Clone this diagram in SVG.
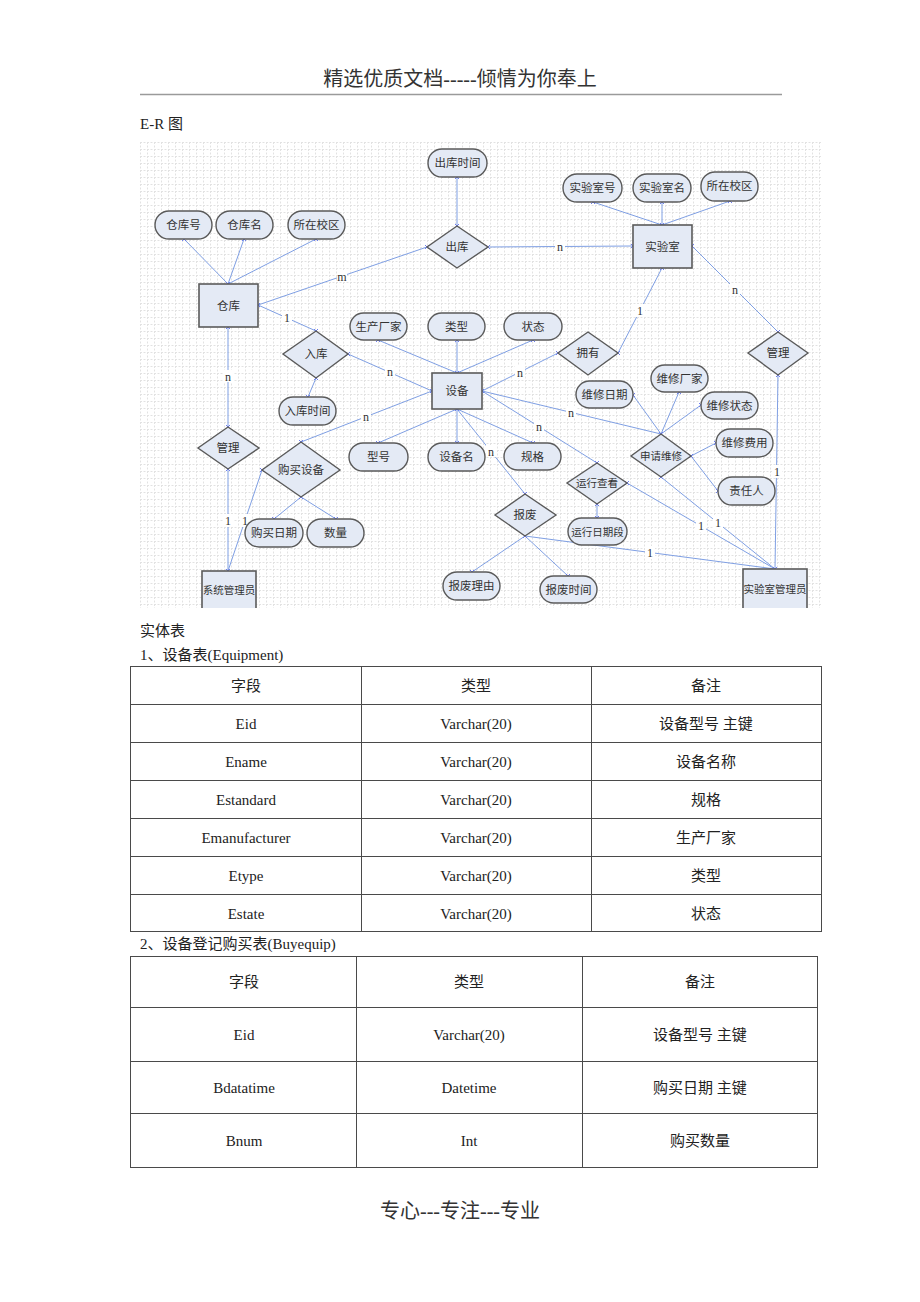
<svg xmlns="http://www.w3.org/2000/svg" width="920" height="1302" viewBox="0 0 920 1302">
<style>
.t{font-family:"Liberation Serif","Noto Sans CJK SC",serif;fill:#222}
.hd{font-size:20px;text-anchor:middle;fill:#333}
.p{font-size:15px}
.tc{font-size:15px;text-anchor:middle}
.nt{font-family:"Liberation Serif","Noto Sans CJK SC",serif;font-size:11.5px;text-anchor:middle;fill:#333}
.sm{font-size:10.5px}
.shape{fill:#e4eaf5;stroke:#5a5a5a;stroke-width:1.4}
.ent{fill:#e4eaf5;stroke:#5a5a5a;stroke-width:1.6}
.cn line{stroke:#7f9fe3;stroke-width:1;marker-start:url(#x);marker-end:url(#x)}
.lbl{font-family:"Liberation Serif","Noto Sans CJK SC",serif;font-size:12px;text-anchor:middle;fill:#333}
.tb{fill:none;stroke:#4a4a4a;stroke-width:1}
</style>
<defs>
<pattern id="grid" x="140" y="142" width="7" height="7" patternUnits="userSpaceOnUse">
<path d="M0 0.5H7M0.5 0V7" stroke="#e2e2e2" stroke-width="1" stroke-dasharray="2 1.5" fill="none"/>
</pattern>
<marker id="x" viewBox="-3 -3 6 6" markerWidth="6" markerHeight="6" refX="0" refY="0" markerUnits="userSpaceOnUse">
<path d="M-2 -2L2 2M-2 2L2 -2" stroke="#6f7ff0" stroke-width="1"/>
</marker>
<clipPath id="gclip"><rect x="140" y="142" width="682" height="466"/></clipPath>
</defs>
<rect width="920" height="1302" fill="#fff"/>
<g id="header">
<text class="t hd" x="460" y="86">精选优质文档-----倾情为你奉上</text>
<line x1="140" y1="94.5" x2="782" y2="94.5" stroke="#9a9a9a" stroke-width="1.5"/>
<text class="t p" x="140" y="129">E-R 图</text>
</g>
<g id="er" clip-path="url(#gclip)">
<rect x="140" y="142" width="682" height="466" fill="url(#grid)"/>
<g id="connectors" class="cn">
<line x1="184" y1="239" x2="228" y2="284"/>
<line x1="244" y1="239" x2="228" y2="284"/>
<line x1="316" y1="239" x2="228" y2="284"/>
<line x1="258" y1="305" x2="427" y2="247"/>
<line x1="457" y1="177" x2="457" y2="226"/>
<line x1="488" y1="247" x2="633" y2="246"/>
<line x1="593" y1="202" x2="662" y2="225"/>
<line x1="662" y1="202" x2="662" y2="225"/>
<line x1="730" y1="201" x2="662" y2="225"/>
<line x1="662" y1="268" x2="618" y2="353"/>
<line x1="692" y1="246" x2="778" y2="332"/>
<line x1="778" y1="375" x2="775" y2="569"/>
<line x1="258" y1="305" x2="316" y2="331"/>
<line x1="348" y1="354" x2="432" y2="391"/>
<line x1="316" y1="378" x2="308" y2="397"/>
<line x1="228" y1="327" x2="228" y2="427"/>
<line x1="228" y1="469" x2="228" y2="571"/>
<line x1="262" y1="470" x2="228" y2="571"/>
<line x1="301" y1="442" x2="432" y2="391"/>
<line x1="301" y1="497" x2="274" y2="519"/>
<line x1="301" y1="497" x2="336" y2="519"/>
<line x1="457" y1="373" x2="378" y2="340"/>
<line x1="457" y1="373" x2="457" y2="340"/>
<line x1="457" y1="373" x2="533" y2="340"/>
<line x1="482" y1="391" x2="558" y2="353"/>
<line x1="457" y1="409" x2="378" y2="443"/>
<line x1="457" y1="409" x2="457" y2="443"/>
<line x1="457" y1="409" x2="533" y2="443"/>
<line x1="457" y1="409" x2="525" y2="494"/>
<line x1="482" y1="391" x2="597" y2="463"/>
<line x1="482" y1="391" x2="661" y2="434"/>
<line x1="597" y1="504" x2="597" y2="518"/>
<line x1="627" y1="483" x2="775" y2="569"/>
<line x1="661" y1="477" x2="775" y2="569"/>
<line x1="525" y1="536" x2="775" y2="569"/>
<line x1="525" y1="536" x2="472" y2="572"/>
<line x1="525" y1="536" x2="568" y2="576"/>
<line x1="633" y1="395" x2="661" y2="434"/>
<line x1="679" y1="392" x2="661" y2="434"/>
<line x1="701" y1="405" x2="661" y2="434"/>
<line x1="691" y1="456" x2="716" y2="443"/>
<line x1="691" y1="456" x2="718" y2="491"/>
</g>
<g id="labels">
<rect x="337" y="270" width="10" height="12" fill="#fff"/><text class="lbl" x="342" y="281">m</text>
<rect x="555" y="240" width="10" height="12" fill="#fff"/><text class="lbl" x="560" y="251">n</text>
<rect x="635" y="304" width="10" height="13" fill="#fff"/><text class="lbl" x="640" y="315">1</text>
<rect x="730" y="283" width="10" height="12" fill="#fff"/><text class="lbl" x="735" y="294">n</text>
<rect x="772" y="465" width="10" height="13" fill="#fff"/><text class="lbl" x="777" y="476">1</text>
<rect x="282" y="311" width="10" height="13" fill="#fff"/><text class="lbl" x="287" y="322">1</text>
<rect x="385" y="365" width="10" height="12" fill="#fff"/><text class="lbl" x="390" y="376">n</text>
<rect x="223" y="370" width="10" height="12" fill="#fff"/><text class="lbl" x="228" y="381">n</text>
<rect x="223" y="514" width="10" height="13" fill="#fff"/><text class="lbl" x="228" y="525">1</text>
<rect x="240" y="514" width="10" height="13" fill="#fff"/><text class="lbl" x="245" y="525">1</text>
<rect x="361" y="410" width="10" height="12" fill="#fff"/><text class="lbl" x="366" y="421">n</text>
<rect x="515" y="366" width="10" height="12" fill="#fff"/><text class="lbl" x="520" y="377">n</text>
<rect x="566" y="406" width="10" height="12" fill="#fff"/><text class="lbl" x="571" y="417">n</text>
<rect x="534" y="420" width="10" height="12" fill="#fff"/><text class="lbl" x="539" y="431">n</text>
<rect x="486" y="445" width="10" height="12" fill="#fff"/><text class="lbl" x="491" y="456">n</text>
<rect x="696" y="519" width="10" height="13" fill="#fff"/><text class="lbl" x="701" y="530">1</text>
<rect x="713" y="516" width="10" height="13" fill="#fff"/><text class="lbl" x="718" y="527">1</text>
<rect x="645" y="546" width="10" height="13" fill="#fff"/><text class="lbl" x="650" y="557">1</text>
</g>
<g id="n-chukushijian"><rect class="shape" x="428" y="149" width="59" height="28" rx="14"/><text class="nt" x="457.5" y="167">出库时间</text></g>
<g id="n-cangkuhao"><rect class="shape" x="155" y="211" width="57" height="28" rx="14"/><text class="nt" x="183.5" y="229">仓库号</text></g>
<g id="n-cangkuming"><rect class="shape" x="216" y="211" width="57" height="28" rx="14"/><text class="nt" x="244.5" y="229">仓库名</text></g>
<g id="n-xiaoqu1"><rect class="shape" x="288" y="211" width="57" height="28" rx="14"/><text class="nt" x="316.5" y="229">所在校区</text></g>
<g id="n-shiyanshihao"><rect class="shape" x="563" y="174" width="59" height="28" rx="14"/><text class="nt" x="592.5" y="192">实验室号</text></g>
<g id="n-shiyanshiming"><rect class="shape" x="633" y="174" width="58" height="28" rx="14"/><text class="nt" x="662" y="192">实验室名</text></g>
<g id="n-xiaoqu2"><rect class="shape" x="701" y="172" width="57" height="29" rx="14"/><text class="nt" x="729.5" y="190">所在校区</text></g>
<g id="n-shengchan"><rect class="shape" x="350" y="313" width="57" height="27" rx="13.5"/><text class="nt" x="378.5" y="330.5">生产厂家</text></g>
<g id="n-leixing"><rect class="shape" x="428" y="313" width="57" height="27" rx="13.5"/><text class="nt" x="456.5" y="330.5">类型</text></g>
<g id="n-zhuangtai"><rect class="shape" x="504" y="313" width="58" height="27" rx="13.5"/><text class="nt" x="533" y="330.5">状态</text></g>
<g id="n-rukushijian"><rect class="shape" x="279" y="397" width="57" height="28" rx="14"/><text class="nt" x="307.5" y="415">入库时间</text></g>
<g id="n-xinghao"><rect class="shape" x="349" y="443" width="59" height="28" rx="14"/><text class="nt" x="378.5" y="461">型号</text></g>
<g id="n-shebeiming"><rect class="shape" x="428" y="443" width="57" height="28" rx="14"/><text class="nt" x="456.5" y="461">设备名</text></g>
<g id="n-guige"><rect class="shape" x="504" y="443" width="57" height="27" rx="13.5"/><text class="nt" x="532.5" y="460.5">规格</text></g>
<g id="n-weixiuriqi"><rect class="shape" x="576" y="381" width="57" height="27" rx="13.5"/><text class="nt" x="604.5" y="398.5">维修日期</text></g>
<g id="n-weixiuchangjia"><rect class="shape" x="651" y="365" width="57" height="27" rx="13.5"/><text class="nt" x="679.5" y="382.5">维修厂家</text></g>
<g id="n-weixiuzhuangtai"><rect class="shape" x="701" y="392" width="57" height="27" rx="13.5"/><text class="nt" x="729.5" y="409.5">维修状态</text></g>
<g id="n-weixiufeiyong"><rect class="shape" x="716" y="429" width="57" height="28" rx="14"/><text class="nt" x="744.5" y="447">维修费用</text></g>
<g id="n-zerenren"><rect class="shape" x="718" y="477" width="57" height="28" rx="14"/><text class="nt" x="746.5" y="495">责任人</text></g>
<g id="n-yunxingriqi"><rect class="shape" x="568" y="518" width="59" height="27" rx="13.5"/><text class="nt sm" x="597.5" y="535.5">运行日期段</text></g>
<g id="n-goumairiqi"><rect class="shape" x="245" y="519" width="58" height="28" rx="14"/><text class="nt" x="274" y="537">购买日期</text></g>
<g id="n-shuliang"><rect class="shape" x="307" y="519" width="57" height="28" rx="14"/><text class="nt" x="335.5" y="537">数量</text></g>
<g id="n-baofeiliyou"><rect class="shape" x="443" y="572" width="57" height="28" rx="14"/><text class="nt" x="471.5" y="590">报废理由</text></g>
<g id="n-baofeishijian"><rect class="shape" x="540" y="576" width="57" height="27" rx="13.5"/><text class="nt" x="568.5" y="593.5">报废时间</text></g>
<g id="e-cangku"><rect class="ent" x="199" y="284" width="59" height="43"/><text class="nt" x="228.5" y="309.5">仓库</text></g>
<g id="e-shiyanshi"><rect class="ent" x="633" y="225" width="59" height="43"/><text class="nt" x="662.5" y="250.5">实验室</text></g>
<g id="e-shebei"><rect class="ent" x="432" y="373" width="50" height="36"/><text class="nt" x="457" y="395">设备</text></g>
<g id="e-xitongguanliyuan"><rect class="ent" x="202" y="571" width="54" height="45"/><text class="nt sm" x="229" y="594">系统管理员</text></g>
<g id="e-shiyanshiguanliyuan"><rect class="ent" x="743" y="569" width="64" height="47"/><text class="nt sm" x="775" y="593">实验室管理员</text></g>
<g id="r-chuku"><polygon class="shape" points="457,226 488,247 457,268 427,247"/><text class="nt" x="457" y="251">出库</text></g>
<g id="r-ruku"><polygon class="shape" points="316,331 348,354 316,378 283,354"/><text class="nt" x="316" y="358">入库</text></g>
<g id="r-yongyou"><polygon class="shape" points="588,332 618,353 588,375 558,353"/><text class="nt" x="588" y="357">拥有</text></g>
<g id="r-guanli-r"><polygon class="shape" points="778,332 808,353 778,375 748,353"/><text class="nt" x="778" y="357">管理</text></g>
<g id="r-guanli-l"><polygon class="shape" points="228,427 259,448 228,469 198,448"/><text class="nt" x="228" y="452">管理</text></g>
<g id="r-goumai"><polygon class="shape" points="301,442 340,470 301,497 262,470"/><text class="nt" x="301" y="474">购买设备</text></g>
<g id="r-shenqing"><polygon class="shape" points="661,434 691,456 661,477 631,456"/><text class="nt sm" x="661" y="460">申请维修</text></g>
<g id="r-yunxing"><polygon class="shape" points="597,463 627,483 597,504 567,483"/><text class="nt sm" x="597" y="487">运行查看</text></g>
<g id="r-baofei"><polygon class="shape" points="525,494 556,515 525,536 495,515"/><text class="nt" x="525" y="519">报废</text></g>
</g>
<g id="table1">
<text class="t p" x="140" y="636">实体表</text>
<text class="t p" x="140" y="660">1、设备表(Equipment)</text>
<rect class="tb" x="130.5" y="666.5" width="691" height="265"/>
<path class="tb" d="M130.5 704.5H821.5M130.5 742.5H821.5M130.5 780.5H821.5M130.5 818.5H821.5M130.5 856.5H821.5M130.5 894.5H821.5M361.5 666.5V931.5M591.5 666.5V931.5"/>
<g class="t tc">
<text x="246" y="691">字段</text><text x="476" y="691">类型</text><text x="706" y="691">备注</text>
<text x="246" y="729">Eid</text><text x="476" y="729">Varchar(20)</text><text x="706" y="729">设备型号  主键</text>
<text x="246" y="767">Ename</text><text x="476" y="767">Varchar(20)</text><text x="706" y="767">设备名称</text>
<text x="246" y="805">Estandard</text><text x="476" y="805">Varchar(20)</text><text x="706" y="805">规格</text>
<text x="246" y="843">Emanufacturer</text><text x="476" y="843">Varchar(20)</text><text x="706" y="843">生产厂家</text>
<text x="246" y="881">Etype</text><text x="476" y="881">Varchar(20)</text><text x="706" y="881">类型</text>
<text x="246" y="919">Estate</text><text x="476" y="919">Varchar(20)</text><text x="706" y="919">状态</text>
</g>
</g>
<g id="table2">
<text class="t p" x="140" y="949">2、设备登记购买表(Buyequip)</text>
<rect class="tb" x="130.5" y="956.5" width="687" height="211"/>
<path class="tb" d="M130.5 1007.5H817.5M130.5 1061.5H817.5M130.5 1113.5H817.5M356.5 956.5V1167.5M582.5 956.5V1167.5"/>
<g class="t tc">
<text x="244" y="987">字段</text><text x="469" y="987">类型</text><text x="700" y="987">备注</text>
<text x="244" y="1040">Eid</text><text x="469" y="1040">Varchar(20)</text><text x="700" y="1040">设备型号  主键</text>
<text x="244" y="1093">Bdatatime</text><text x="469" y="1093">Datetime</text><text x="700" y="1093">购买日期  主键</text>
<text x="244" y="1146">Bnum</text><text x="469" y="1146">Int</text><text x="700" y="1146">购买数量</text>
</g>
</g>
<g id="footer">
<text class="t hd" x="460" y="1218">专心---专注---专业</text>
</g>
</svg>
